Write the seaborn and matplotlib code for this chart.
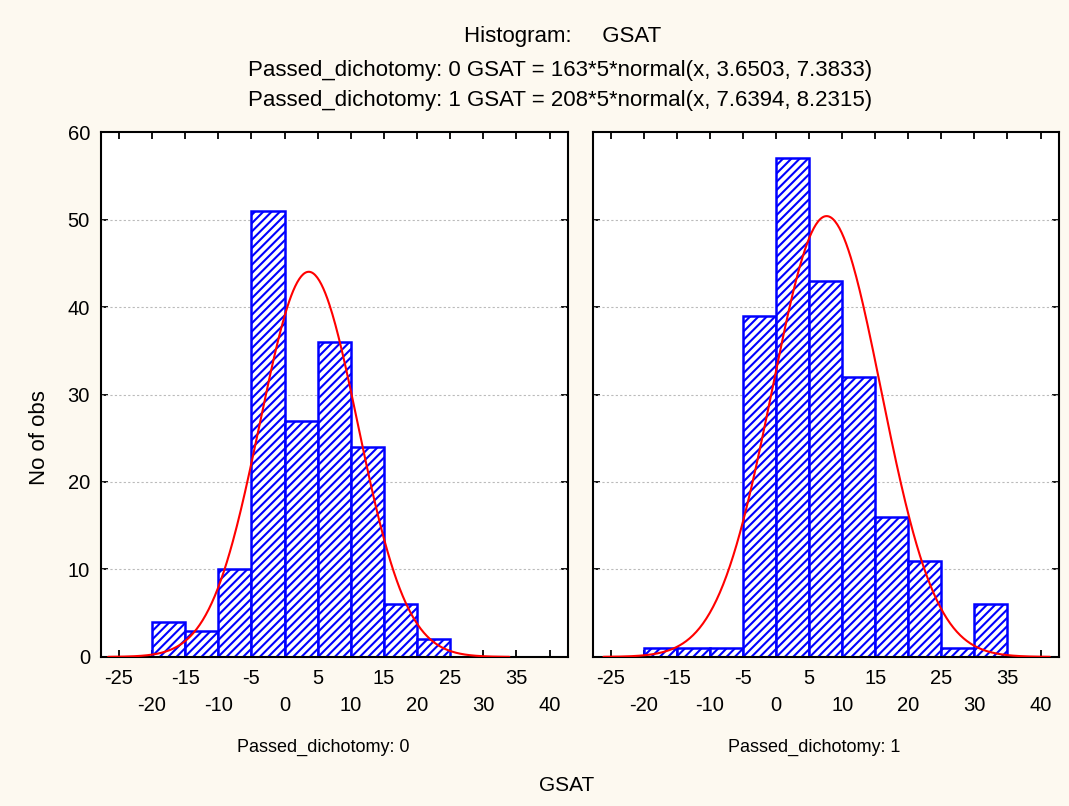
import numpy as np
import pandas as pd
import matplotlib
matplotlib.use("Agg")
import matplotlib.pyplot as plt
import seaborn as sns

# Histogram counts per 5-unit GSAT bin (left edges)
bins_0 = [-20, -15, -10, -5, 0, 5, 10, 15, 20]
counts_0 = [4, 3, 10, 51, 27, 36, 24, 6, 2]
bins_1 = [-20, -15, -10, -5, 0, 5, 10, 15, 20, 25, 30]
counts_1 = [1, 1, 1, 39, 57, 43, 32, 16, 11, 1, 6]

# Fitted normal parameters: n, mean, sd
fit_0 = (163, 3.6503, 7.3833)
fit_1 = (208, 7.6394, 8.2315)
bin_width = 5

groups = ["0", "1"]
upper_ticks = [-25, -15, -5, 5, 15, 25, 35]
lower_ticks = [-20, -10, 0, 10, 20, 30, 40]
y_ticks = [0, 10, 20, 30, 40, 50, 60]

sns.set_style("white")
plt.rcParams["font.family"] = ["Liberation Sans", "DejaVu Sans"]
plt.rcParams["text.color"] = "black"
plt.rcParams["axes.labelcolor"] = "black"
plt.rcParams["xtick.color"] = "black"
plt.rcParams["ytick.color"] = "black"
plt.rcParams["hatch.linewidth"] = 1.5
plt.rcParams["hatch.color"] = "#0000FF"

BG = "#FDF9F0"
fig = plt.figure(figsize=(10.69, 8.06), dpi=100, facecolor=BG)
axes = [fig.add_axes([0.0945, 0.185, 0.437, 0.651]),
        fig.add_axes([0.5547, 0.185, 0.436, 0.651])]


def normal_pdf(x, mu, sd):
    return np.exp(-0.5 * ((x - mu) / sd) ** 2) / (sd * np.sqrt(2 * np.pi))


for ax, grp, lefts, counts, fit in zip(axes, groups, [bins_0, bins_1],
                                       [counts_0, counts_1], [fit_0, fit_1]):
    lefts = np.asarray(lefts, dtype=float)
    df = pd.DataFrame({"GSAT": lefts + bin_width / 2, "n": counts})
    sns.histplot(data=df, x="GSAT", weights="n", binwidth=bin_width,
                 binrange=(float(lefts[0]), float(lefts[-1] + bin_width)), ax=ax,
                 stat="count", fill=True, linewidth=1.8)
    for p in ax.patches:
        p.set_facecolor("white")
        p.set_edgecolor("#0000FF")
        p.set_hatch("////")
        if hasattr(p, "set_hatchcolor"):
            p.set_hatchcolor("#0000FF")
        p.set_zorder(2)

    n, mu, sd = fit
    xs = np.linspace(mu - 4.1 * sd, mu + 4.1 * sd, 400)
    ys = n * bin_width * normal_pdf(xs, mu, sd)
    sns.lineplot(x=xs, y=ys, ax=ax, color="#FF0000", linewidth=1.5, zorder=3)

    ax.set_facecolor("white")
    ax.set_xlim(-27.7, 42.8)
    ax.set_ylim(0, 60)
    ax.set_yticks(y_ticks)
    for yv in y_ticks[1:-1]:
        ax.axhline(yv, color="#BBBBBB", linestyle=(0, (2, 2)), linewidth=0.8, zorder=1)

    ax.set_xticks(upper_ticks)
    ax.set_xticklabels([str(t) for t in upper_ticks])
    ax.set_xticks(lower_ticks, minor=True)
    ax.set_xticklabels([str(t) for t in lower_ticks], minor=True)
    ax.tick_params(axis="x", which="both", direction="in", length=5, width=1.3,
                   top=True, bottom=True, labelsize=14.5, colors="black")
    ax.tick_params(axis="x", which="major", pad=9)
    ax.tick_params(axis="x", which="minor", pad=28)
    ax.tick_params(axis="y", direction="in", length=5, width=1.3, pad=8,
                   left=True, right=True, labelsize=14.5, colors="black")
    for s in ax.spines.values():
        s.set_visible(True)
        s.set_color("black")
        s.set_linewidth(1.5)
    ax.set_xlabel("")
    ax.set_ylabel("")
    ax.text(0.475, -0.173, f"Passed_dichotomy: {grp}", transform=ax.transAxes,
            ha="center", va="center", fontsize=13, color="black")

axes[1].set_yticklabels([])

fig.text(0.0374, 0.4566, "No of obs", rotation=90, ha="center", va="center",
         fontsize=16, color="black")
fig.text(0.530, 0.026, "GSAT", ha="center", va="center", fontsize=15, color="black")

fig.text(0.5267, 0.955, "Histogram:     GSAT", ha="center", va="center",
         fontsize=16, color="black")
fig.text(0.524, 0.913,
         f"Passed_dichotomy: 0 GSAT = {fit_0[0]}*{bin_width}*normal(x, {fit_0[1]:.4f}, {fit_0[2]:.4f})",
         ha="center", va="center", fontsize=16, color="black")
fig.text(0.524, 0.875,
         f"Passed_dichotomy: 1 GSAT = {fit_1[0]}*{bin_width}*normal(x, {fit_1[1]:.4f}, {fit_1[2]:.4f})",
         ha="center", va="center", fontsize=16, color="black")

fig.savefig("out.png", dpi=100, facecolor=BG)
